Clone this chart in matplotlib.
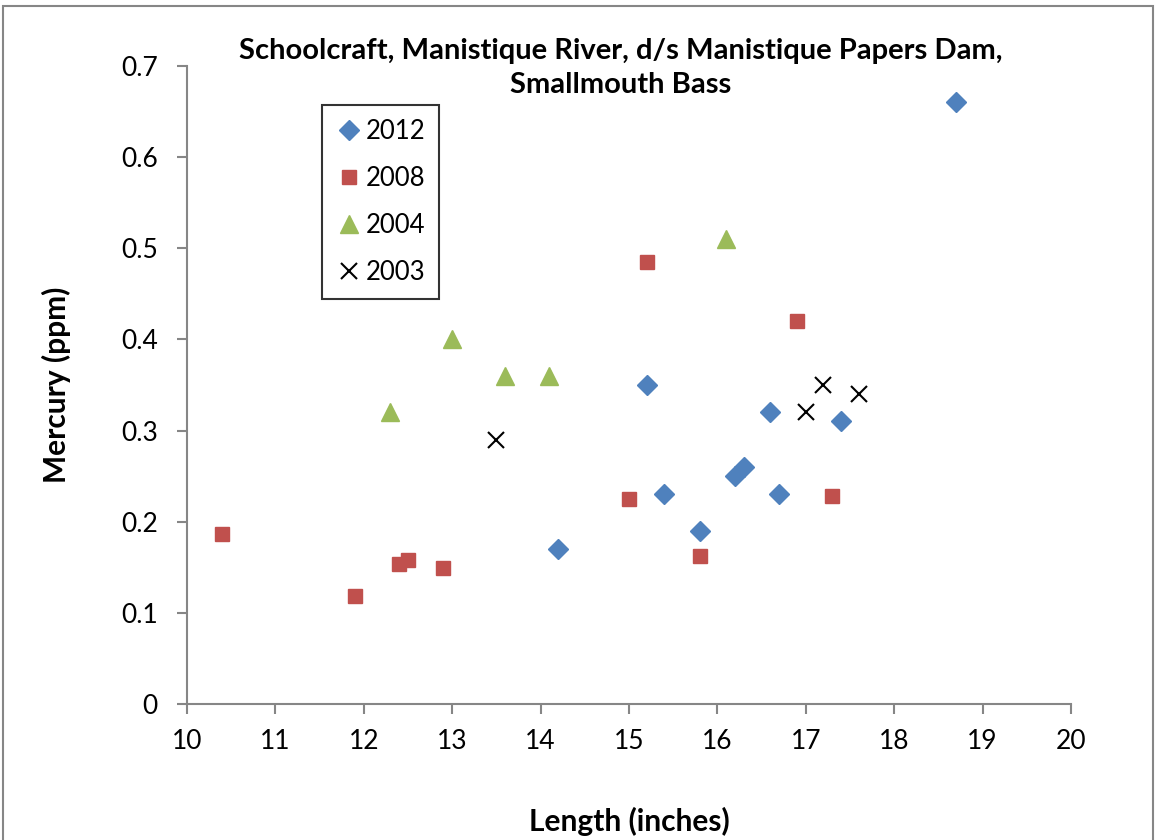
import matplotlib.pyplot as plt
from matplotlib.patches import Rectangle

plt.rcParams['font.family'] = ['Lato', 'DejaVu Sans']

# Length (inches) and mercury (ppm)
len_2012 = [18.7, 15.2, 16.6, 17.4, 16.3, 16.2, 15.4, 16.7, 15.8, 14.2]
hg_2012 = [0.66, 0.35, 0.32, 0.31, 0.26, 0.25, 0.23, 0.23, 0.19, 0.17]

len_2008 = [10.4, 11.9, 12.4, 12.5, 12.9, 15.0, 15.2, 15.8, 16.9, 17.3]
hg_2008 = [0.187, 0.118, 0.154, 0.158, 0.149, 0.225, 0.485, 0.162, 0.42, 0.228]

len_2004 = [12.3, 13.0, 13.6, 14.1, 16.1]
hg_2004 = [0.32, 0.40, 0.36, 0.36, 0.51]

len_2003 = [13.5, 17.0, 17.2, 17.6]
hg_2003 = [0.29, 0.32, 0.35, 0.34]

fig = plt.figure(figsize=(11.56, 8.4), dpi=100)
ax = fig.add_axes([187 / 1156, 1 - 704 / 840, (1071 - 187) / 1156, (704 - 66) / 840])

# outer chart border
fig.patches.append(Rectangle((3 / 1156, -0.01), 1150 / 1156, 1 - 6 / 840 + 0.01,
                             transform=fig.transFigure, fill=False,
                             edgecolor='#868686', linewidth=1.5))

ax.plot(len_2012, hg_2012, 'D', color='#4F81BD', markersize=10, label='2012')
ax.plot(len_2008, hg_2008, 's', color='#C0504D', markersize=10.5, label='2008')
ax.plot(len_2004, hg_2004, '^', color='#9BBB59', markersize=13, label='2004')
ax.plot(len_2003, hg_2003, 'x', color='black', markersize=12, markeredgewidth=1.5,
        label='2003')

ax.set_xlim(10, 20)
ax.set_ylim(0, 0.7)
ax.set_xticks(range(10, 21))
ax.set_yticks([0, 0.1, 0.2, 0.3, 0.4, 0.5, 0.6, 0.7])
ax.set_yticklabels(['0', '0.1', '0.2', '0.3', '0.4', '0.5', '0.6', '0.7'])

for side in ['top', 'right']:
    ax.spines[side].set_visible(False)
for side in ['left', 'bottom']:
    ax.spines[side].set_color('#868686')
    ax.spines[side].set_linewidth(1.5)
ax.tick_params(axis='both', colors='#868686', labelcolor='black', labelsize=19,
               length=7, width=1.5)
ax.tick_params(axis='x', pad=11)
ax.tick_params(axis='y', pad=14)

ax.set_xlabel('Length (inches)', fontsize=21.5, fontweight='bold', labelpad=38)
ax.set_ylabel('Mercury (ppm)', fontsize=21.5, fontweight='bold', labelpad=36)

fig.text(621 / 1156, 1 - 68 / 840,
         'Schoolcraft, Manistique River, d/s Manistique Papers Dam,\nSmallmouth Bass',
         ha='center', va='center', fontsize=21, fontweight='bold', linespacing=1.4)

leg = ax.legend(loc='upper left', bbox_to_anchor=((322 - 187) / 884, (704 - 105) / 638),
                fontsize=18.5, frameon=True, fancybox=False, borderpad=0.55,
                labelspacing=0.85, handletextpad=0.15, handlelength=1.0,
                borderaxespad=0)
leg.get_frame().set_edgecolor('black')
leg.get_frame().set_linewidth(1.5)

fig.savefig('out.png', dpi=100)
